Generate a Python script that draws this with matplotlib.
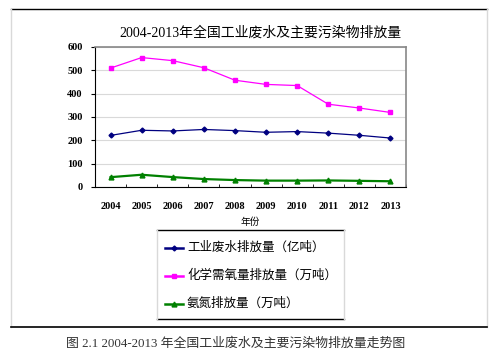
import matplotlib.pyplot as plt
from matplotlib.lines import Line2D
import numpy as np

plt.rcParams['font.family'] = ['Liberation Serif', 'Noto Sans CJK SC']

years = ['2004', '2005', '2006', '2007', '2008', '2009', '2010', '2011', '2012', '2013']
wastewater = [221.1, 243.1, 240.2, 246.6, 241.7, 234.5, 237.5, 230.9, 221.6, 209.8]
cod = [509.7, 554.7, 541.5, 511.1, 457.6, 439.7, 434.8, 354.8, 338.5, 319.5]
nh3n = [42.2, 52.5, 42.5, 34.1, 29.7, 27.3, 27.3, 28.1, 26.4, 24.6]
names = ['工业废水排放量（亿吨）', '化学需氧量排放量（万吨）', '氨氮排放量（万吨）']

W, H = 499, 355
fig = plt.figure(figsize=(W / 100, H / 100), dpi=100)

# outer frame of the chart
fig.add_artist(Line2D([11 / W, 487 / W], [1 - 9 / H, 1 - 9 / H], color='black', lw=1))
fig.add_artist(Line2D([11 / W, 11 / W], [1 - 9 / H, 1 - 327 / H], color='#d9d9d9', lw=1))
fig.add_artist(Line2D([487 / W, 487 / W], [1 - 9 / H, 1 - 327 / H], color='#d9d9d9', lw=1))
fig.add_artist(Line2D([11 / W, 487 / W], [1 - 327 / H, 1 - 327 / H], color='black', lw=1.2))

ax = fig.add_axes([95 / W, 1 - 187 / H, (406 - 95) / W, (187 - 47) / H])
x = np.arange(len(years))
ax.plot(x, wastewater, color='#000080', lw=0.9, marker='D', ms=2.5)
ax.plot(x, cod, color='#ff00ff', lw=0.9, marker='s', ms=3.5)
ax.plot(x, nh3n, color='#008000', lw=1.6, marker='^', ms=3.5)

ax.set_xlim(-0.5, len(years) - 0.5)
ax.set_ylim(0, 600)
ax.set_yticks(range(0, 601, 100))
ax.set_yticklabels([str(v) for v in range(0, 601, 100)], fontsize=7.5, fontweight='bold')
ax.set_xticks(x)
ax.set_xticklabels(years, fontsize=7.5, fontweight='bold')
ax.set_xticks(np.arange(-0.5, len(years)), minor=True)
ax.tick_params(axis='x', which='major', length=0, pad=11)
ax.tick_params(axis='x', which='minor', direction='in', length=2)
ax.tick_params(axis='y', length=3, pad=6)
ax.yaxis.grid(True, color='#d9d9d9', lw=0.8)
ax.set_axisbelow(True)
for s in ['top', 'right']:
    ax.spines[s].set_color('#888888')
    ax.spines[s].set_linewidth(1.2)
for s in ['left', 'bottom']:
    ax.spines[s].set_color('black')

fig.text(260 / W, 1 - 33 / H, '2004-2013年全国工业废水及主要污染物排放量', fontsize=10,
         ha='center', va='center')
fig.text(250 / W, 1 - 222 / H, '年份', fontsize=7, ha='center', va='center')

# legend box
fig.add_artist(Line2D([157 / W, 344 / W], [1 - 230 / H, 1 - 230 / H], color='black', lw=1))
fig.add_artist(Line2D([157 / W, 344 / W], [1 - 319 / H, 1 - 319 / H], color='black', lw=1))
fig.add_artist(Line2D([157 / W, 157 / W], [1 - 230 / H, 1 - 319 / H], color='#d9d9d9', lw=1))
fig.add_artist(Line2D([344 / W, 344 / W], [1 - 230 / H, 1 - 319 / H], color='#d9d9d9', lw=1))
styles = [('#000080', 'D', 2.5), ('#ff00ff', 's', 3.5), ('#008000', '^', 3.5)]
for i, (name, (c, m, s)) in enumerate(zip(names, styles)):
    yy = 1 - (248 + 28 * i) / H
    fig.add_artist(Line2D([165 / W, 183 / W], [yy, yy], color=c, lw=1.8))
    fig.add_artist(Line2D([174 / W], [yy], color=c, marker=m, ms=s, lw=0))
    fig.text(187 / W, yy, name, fontsize=9, ha='left', va='center')

fig.text(236 / W, 1 - 344 / H, '图 2.1 2004-2013 年全国工业废水及主要污染物排放量走势图',
         fontsize=9.3, ha='center', va='center', color='#333333')

fig.savefig('out.png', dpi=100)
